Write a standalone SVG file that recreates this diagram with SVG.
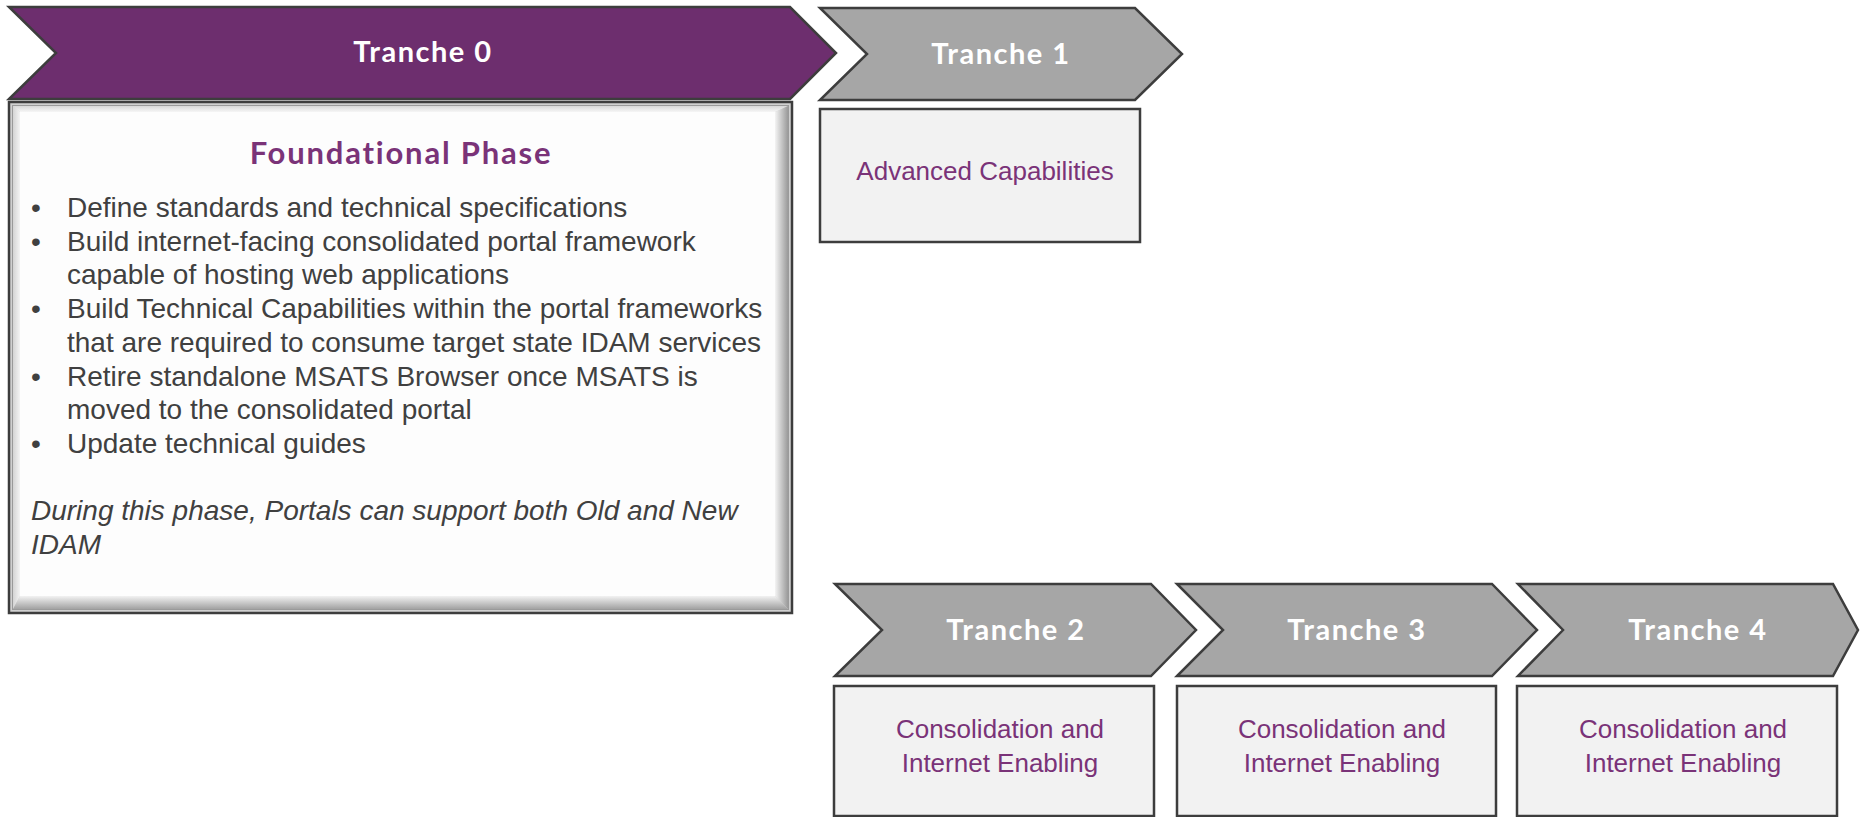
<svg xmlns="http://www.w3.org/2000/svg" width="1860" height="817" viewBox="0 0 1860 817">
  <style>
    .chev { stroke: #3d3d3d; stroke-width: 2.5; stroke-linejoin: miter; }
    .chev-p { fill: #6d2e6e; }
    .chev-g { fill: #a6a6a6; }
    .ttl { font-family: Lato, "Open Sans", sans-serif; font-weight: 700; font-size: 29px; letter-spacing: 1.5px; fill: #ffffff; text-anchor: middle; }
    .box { fill: #f2f2f2; stroke: #3d3d3d; stroke-width: 2.5; }
    .lbl { font-family: "Liberation Sans", Arial, sans-serif; font-size: 26px; fill: #7a3378; text-anchor: middle; }
    .body { font-family: "Liberation Sans", Arial, sans-serif; font-size: 28px; fill: #404040; }
    .head { font-family: Lato, "Open Sans", sans-serif; font-weight: 700; font-size: 31px; letter-spacing: 1.8px; fill: #7a3378; text-anchor: middle; }
  </style>
  <defs>
    <linearGradient id="gRight" x1="0" y1="0" x2="1" y2="0">
      <stop offset="0" stop-color="#f4f4f4"/>
      <stop offset="1" stop-color="#9a9a9a"/>
    </linearGradient>
    <linearGradient id="gBottom" x1="0" y1="0" x2="0" y2="1">
      <stop offset="0" stop-color="#f2f2f2"/>
      <stop offset="1" stop-color="#a2a2a2"/>
    </linearGradient>
    <linearGradient id="gTop" x1="0" y1="0" x2="0" y2="1">
      <stop offset="0" stop-color="#d8d8d8"/>
      <stop offset="1" stop-color="#f6f6f6"/>
    </linearGradient>
    <linearGradient id="gLeft" x1="0" y1="0" x2="1" y2="0">
      <stop offset="0" stop-color="#d4d4d4"/>
      <stop offset="1" stop-color="#f4f4f4"/>
    </linearGradient>
  </defs>

  <g id="tranche0">
    <polygon class="chev chev-p" points="9,7 790,7 836,53 790,99 9,99 56,53"/>
    <text class="ttl" x="423" y="62">Tranche 0</text>
  </g>

  <g id="foundational">
    <rect x="9" y="102" width="783" height="511" fill="#d0d0d0" stroke="#3d3d3d" stroke-width="2.5"/>
    <rect x="12.5" y="105.5" width="776" height="504" fill="none" stroke="#9a9a9a" stroke-width="1"/>
    <polygon points="13,106 788,106 775,112 20,112" fill="url(#gTop)"/>
    <polygon points="13,106 20,112 20,596 13,609" fill="url(#gLeft)"/>
    <polygon points="788,106 788,609 775,596 775,112" fill="url(#gRight)"/>
    <polygon points="13,609 788,609 775,596 20,596" fill="url(#gBottom)"/>
    <rect x="20" y="112" width="755" height="484" fill="#fdfdfd"/>
    <text class="head" x="401" y="164">Foundational Phase</text>
    <g class="body">
      <text x="31" y="217">•</text>
      <text x="67" y="217">Define standards and technical specifications</text>
      <text x="31" y="250.7">•</text>
      <text x="67" y="250.7">Build internet-facing consolidated portal framework</text>
      <text x="67" y="284.4">capable of hosting web applications</text>
      <text x="31" y="318.1">•</text>
      <text x="67" y="318.1">Build Technical Capabilities within the portal frameworks</text>
      <text x="67" y="351.9">that are required to consume target state IDAM services</text>
      <text x="31" y="385.6">•</text>
      <text x="67" y="385.6">Retire standalone MSATS Browser once MSATS is</text>
      <text x="67" y="419.3">moved to the consolidated portal</text>
      <text x="31" y="453">•</text>
      <text x="67" y="453">Update technical guides</text>
      <text x="31" y="520" font-style="italic">During this phase, Portals can support both Old and New</text>
      <text x="31" y="553.5" font-style="italic">IDAM</text>
    </g>
  </g>

  <g id="tranche1">
    <polygon class="chev chev-g" points="820,8 1135,8 1182,54 1135,100 820,100 867,54"/>
    <text class="ttl" x="1001" y="64">Tranche 1</text>
  </g>
  <g id="advanced">
    <rect class="box" x="820" y="109" width="320" height="133"/>
    <text class="lbl" x="985" y="180">Advanced Capabilities</text>
  </g>

  <g id="tranche2">
    <polygon class="chev chev-g" points="835,584 1151,584 1196,630 1151,676 835,676 882,630"/>
    <text class="ttl" x="1016" y="640">Tranche 2</text>
  </g>
  <g id="consolidation2">
    <rect class="box" x="834" y="686" width="320" height="130"/>
    <text class="lbl" x="1000" y="738">Consolidation and</text>
    <text class="lbl" x="1000" y="772">Internet Enabling</text>
  </g>

  <g id="tranche3">
    <polygon class="chev chev-g" points="1177,584 1492,584 1537,630 1492,676 1177,676 1223,630"/>
    <text class="ttl" x="1357" y="640">Tranche 3</text>
  </g>
  <g id="consolidation3">
    <rect class="box" x="1177" y="686" width="319" height="130"/>
    <text class="lbl" x="1342" y="738">Consolidation and</text>
    <text class="lbl" x="1342" y="772">Internet Enabling</text>
  </g>

  <g id="tranche4">
    <polygon class="chev chev-g" points="1518,584 1833,584 1858,630 1833,676 1518,676 1563,630"/>
    <text class="ttl" x="1698" y="640">Tranche 4</text>
  </g>
  <g id="consolidation4">
    <rect class="box" x="1517" y="686" width="320" height="130"/>
    <text class="lbl" x="1683" y="738">Consolidation and</text>
    <text class="lbl" x="1683" y="772">Internet Enabling</text>
  </g>

  <g id="connectors"/>
</svg>
